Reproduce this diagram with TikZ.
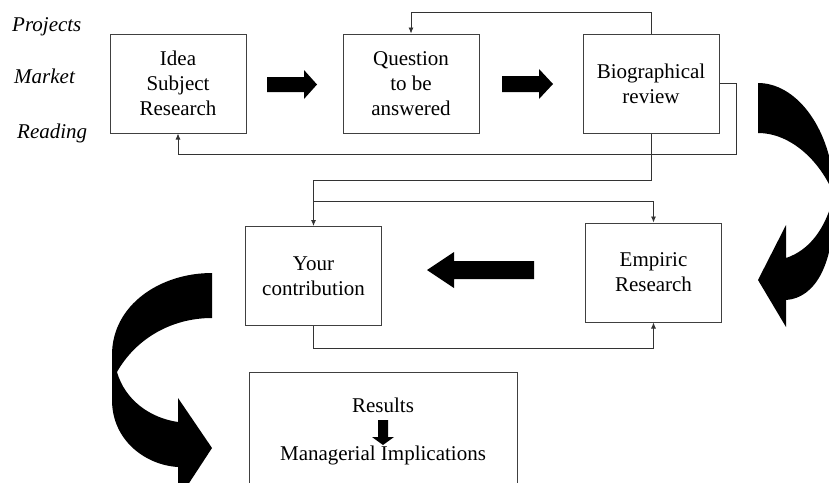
\documentclass[tikz,border=0pt]{standalone}
\usepackage{fontspec}
\setmainfont{Liberation Serif}
\usetikzlibrary{shapes,arrows,arrows.meta,positioning}
\tikzstyle{block} = [draw=black!75, line width=1pt, rectangle, fill=white, minimum height=99pt, minimum width=136pt, align=center, font=\fontsize{21}{25}\selectfont]
\tikzstyle{side} = [anchor=base west, inner sep=0pt, font=\fontsize{21}{25}\selectfont\itshape]
\tikzstyle{txt} = [anchor=base, inner sep=0pt, font=\fontsize{21}{25}\selectfont]
\tikzstyle{wire} = [draw=black!80, line width=0.8pt]

\begin{document}
\begin{tikzpicture}[x=1pt, y=-1pt, >={Latex[length=6pt,width=5pt]}]
    \clip (0,0) rectangle (829,482);

    \node [side] (projects) at (12,31.5) {Projects};
    \node [side] (market) at (14,83) {Market};
    \node [side] (reading) at (17,138) {Reading};

    \node [block] (idea) at (178,83.5) {Idea\\Subject\\Research};
    \node [block, right=96pt of idea] (question) {Question\\to be\\answered};
    \node [block, right=103pt of question] (review) {Biographical\\review};
    \node [block] (contrib) at (313.5,276) {Your\\contribution};
    \node [block, right=203pt of contrib, yshift=3.5pt] (empiric) {Empiric\\Research};

    % fat arrows between the boxes
    \fill [black] (267,77) -- (304,77) -- (304,70) -- (317,84.5) -- (304,99) -- (304,92) -- (267,92) -- cycle;
    \fill [black] (502,76) -- (539,76) -- (539,69) -- (553,84) -- (539,99) -- (539,92) -- (502,92) -- cycle;
    \fill [black] (534,261) -- (454,261) -- (454,252) -- (427,270) -- (454,288) -- (454,279) -- (534,279) -- cycle;

    % feedback lines
    \draw [wire, ->] (review.north) -- ++(0,-21) -| (question.north);
    \coordinate (c1) at (736,154);
    \draw [wire, ->] (review.east) -| (c1) -| (idea.south);
    \draw [wire, ->] (review.south) -- ++(0,47) -| (contrib.north);
    \draw [wire, ->] ([yshift=25pt]contrib.north) -| (empiric.north);
    \draw [wire, ->] (contrib.south) -- ++(0,22) -| (empiric.south);

    % results box, cut by the page edge
    \node [draw=black!75, line width=1pt, minimum width=268pt, minimum height=140pt, anchor=north] (resbox) at (383,372) {};
    \node [txt] (res) at (383,412) {Results};
    \fill [black] (378,420) -- (388,420) -- (388,437) -- (394,437) -- (383,445) -- (372,437) -- (378,437) -- cycle;
    \node [txt] (mgr) at (383,460) {Managerial Implications};

    % curved arrow on the right
    \fill [black] (758,83) .. controls (795,83) and (829,125) .. (834,185)
        -- (834,200) .. controls (835,265) and (815,298) .. (786,300)
        -- (786,327) -- (758,280) -- (786,225) -- (786,258)
        .. controls (810,250) and (826,228) .. (834,195)
        .. controls (820,160) and (790,133) .. (758,133) -- cycle;
    % curved arrow on the left
    \fill [black] (212,273) .. controls (160,273) and (112,305) .. (112,355)
        -- (112,400) .. controls (112,440) and (145,465) .. (178,467)
        -- (178,500) -- (212,448) -- (178,398) -- (178,422)
        .. controls (150,418) and (125,400) .. (117,372)
        .. controls (135,340) and (170,318) .. (212,318) -- cycle;
\end{tikzpicture}
\end{document}
